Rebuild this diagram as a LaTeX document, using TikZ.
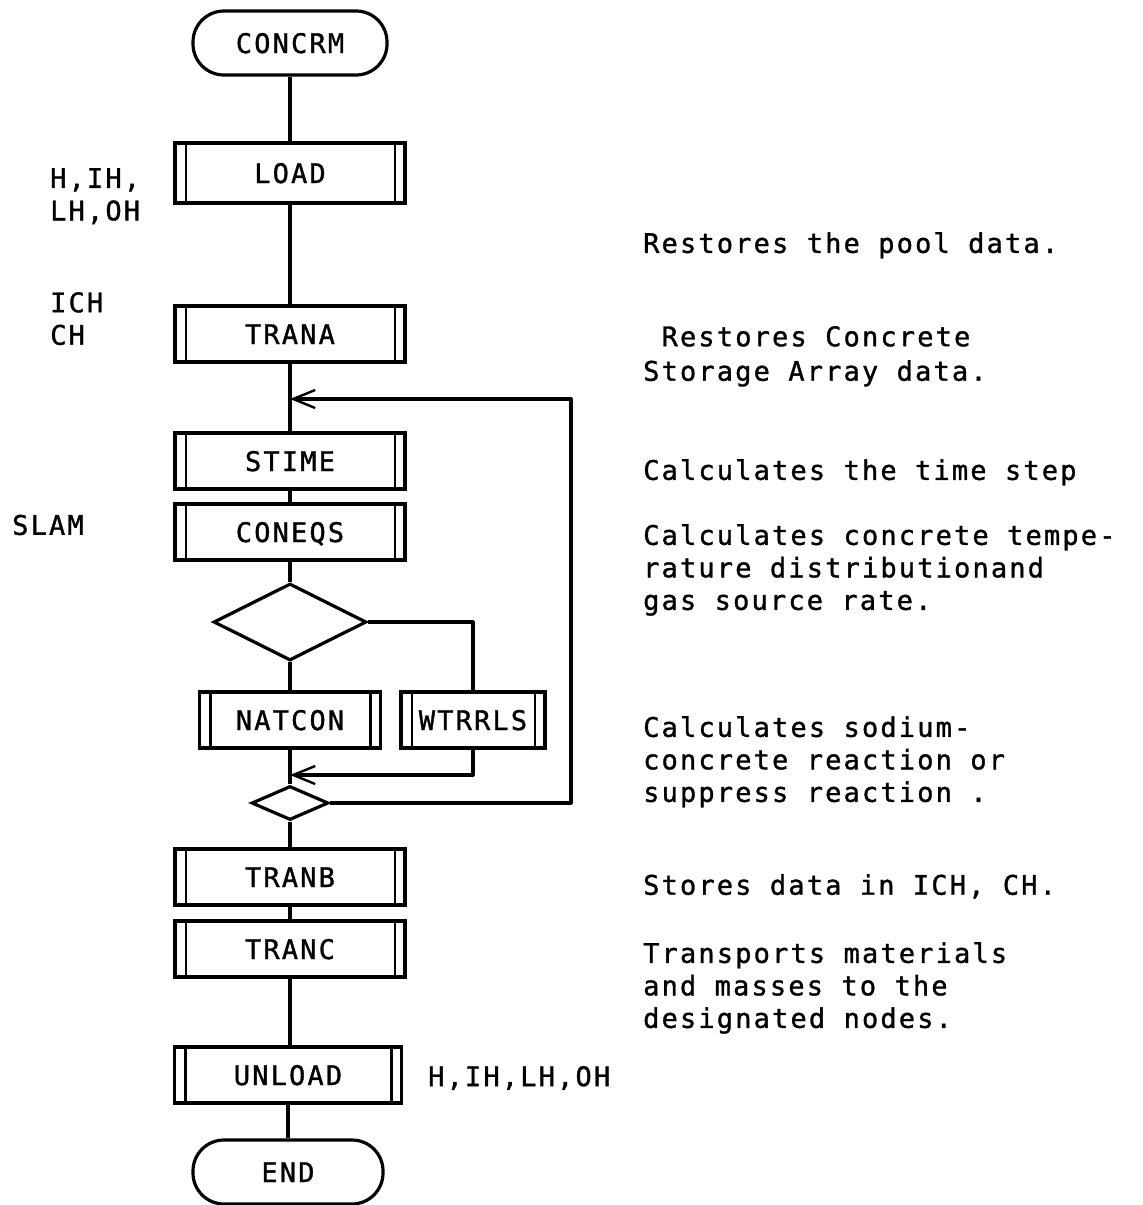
\documentclass[tikz,border=0pt]{standalone}
\usepackage{fontspec}
\newfontfamily\typefont[LetterSpace=8,FakeBold=1.2]{DejaVu Sans Mono}
\usetikzlibrary{shapes.geometric,arrows.meta}

\begin{document}
\begin{tikzpicture}[x=1pt,y=-1pt,
  every node/.style={font=\typefont\fontsize{27}{32.5}\selectfont, inner sep=0pt},
  flow/.style={line width=3.2pt, line join=round},
  back/.style={flow, -{Straight Barb[length=22pt,width=18pt,line width=2.4pt]}},
  subprog/.style={draw, line width=3.2pt, minimum width=230pt, minimum height=56pt,
    text height=20pt, text depth=0pt,
    path picture={
      \draw[line width=2.4pt]
        ([xshift=11pt]path picture bounding box.north west) --
        ([xshift=11pt]path picture bounding box.south west)
        ([xshift=-10pt]path picture bounding box.north east) --
        ([xshift=-10pt]path picture bounding box.south east);}},
  terminal/.style={draw, line width=3.2pt, rounded corners=31pt,
    minimum width=194pt, minimum height=64pt, text height=20pt, text depth=0pt},
  decision/.style={draw, diamond, line width=3.2pt},
  note/.style={anchor=north west, align=left},
]
\useasboundingbox (0,0) rectangle (1143,1205);

% main column
\node[terminal] (concrm) at (290,43) {CONCRM};
\node[subprog, minimum height=60pt] (load) at (290,173) {LOAD};
\node[subprog] (trana) at (290,334) {TRANA};
\node[subprog] (stime) at (290,461) {STIME};
\node[subprog] (coneqs) at (290,532) {CONEQS};
\node[decision, minimum width=153pt, minimum height=77pt] (bigd) at (290,622) {};
\node[subprog, minimum width=181pt] (natcon) at (290,720) {NATCON};
\node[subprog, minimum width=144pt] (wtrrls) at (473,720) {WTRRLS};
\node[decision, minimum width=77pt, minimum height=34pt] (smalld) at (290,803) {};
\node[subprog] (tranb) at (290,877) {TRANB};
\node[subprog] (tranc) at (290,949) {TRANC};
\node[subprog, minimum width=227pt] (unload) at (288,1075) {UNLOAD};
\node[terminal, minimum width=190pt] (end) at (288,1172) {END};

% connectors
\coordinate (reentry) at (290,399);
\coordinate (merge) at (290,775);
\coordinate (loopcorner) at (571,803);
\draw[flow] (concrm) -- (load);
\draw[flow] (load) -- (trana);
\draw[flow] (trana) -- (stime);
\draw[flow] (stime) -- (coneqs);
\draw[flow] (coneqs) -- (bigd);
\draw[flow] (bigd) -- (natcon);
\draw[flow] (bigd.east) -| (wtrrls.north);
\draw[flow] (natcon) -- (smalld);
\draw[back] (wtrrls.south) |- (merge);
\draw[back] (smalld.east) -- (loopcorner) |- (reentry);
\draw[flow] (smalld) -- (tranb);
\draw[flow] (tranb) -- (tranc);
\draw[flow] (tranc.south) -- (unload.north -| tranc.south);
\draw[flow] (unload) -- (end);

% arrays passed to the routines
\node[note] (loadargs) at (50,168) {H,IH,\\LH,OH};
\node[note] (tranaargs) at (50,292) {ICH\\CH};
\node[anchor=west] (slam) at (12,525) {SLAM};
\node[anchor=west] (unloadargs) at (428,1078) {H,IH,LH,OH};

% descriptions
\node[note] (d1) at (643,232) {Restores the pool data.};
\node[note] (d2) at (643,326) {\ Restores Concrete\\[2pt]Storage Array data.};
\node[note] (d3) at (643,459) {Calculates the time step};
\node[note] (d4) at (643,524) {Calculates concrete tempe-\\rature distributionand\\gas source rate.};
\node[note] (d5) at (643,716) {Calculates sodium-\\concrete reaction or\\suppress reaction .};
\node[note] (d6) at (643,874) {Stores data in ICH, CH.};
\node[note] (d7) at (643,942) {Transports materials\\and masses to the\\designated nodes.};
\end{tikzpicture}
\end{document}
